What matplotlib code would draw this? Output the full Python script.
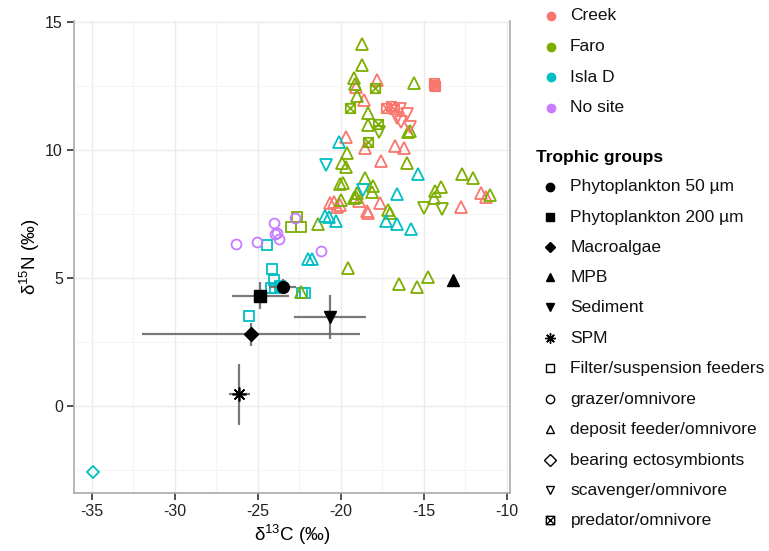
import matplotlib
matplotlib.use("Agg")
import matplotlib.pyplot as plt
from matplotlib.path import Path
from matplotlib.lines import Line2D
from matplotlib.ticker import MultipleLocator

plt.rcParams['font.family'] = ['Liberation Sans', 'DejaVu Sans']
plt.rcParams['mathtext.fontset'] = 'custom'
plt.rcParams['mathtext.rm'] = 'Liberation Sans'
plt.rcParams['mathtext.it'] = 'Liberation Sans:italic'
plt.rcParams['mathtext.default'] = 'regular'
plt.rcParams['axes.unicode_minus'] = False

# ---------------- data ----------------
site_names = ["Creek", "Faro", "Isla D", "No site"]
site_colors = ["#F8766D", "#7CAE00", "#00BFC4", "#C77CFF"]

group_labels = ["Phytoplankton 50 µm", "Phytoplankton 200 µm", "Macroalgae", "MPB",
                "Sediment", "SPM", "Filter/suspension feeders", "grazer/omnivore",
                "deposit feeder/omnivore", "bearing ectosymbionts",
                "scavenger/omnivore", "predator/omnivore"]

# sources (mean, sd)
src_names = ["Phytoplankton 50 µm", "Phytoplankton 200 µm", "Macroalgae", "MPB", "Sediment", "SPM"]
src_c = [-23.5, -24.84, -25.42, -13.22, -20.65, -26.11]
src_n = [4.66, 4.31, 2.81, 4.92, 3.46, 0.46]
src_c_sd = [0.8, 1.7, 6.57, 0.0, 2.15, 0.65]
src_n_sd = [0.3, 0.52, 0.45, 0.0, 0.86, 1.19]

# consumers
filter_c = [-22.65, -23.0, -22.41, -24.46, -24.12, -24.0, -24.22, -23.96, -23.66, -25.5, -22.35, -22.15]
filter_n = [7.37, 7.0, 7.0, 6.29, 5.34, 4.92, 4.6, 4.62, 4.69, 3.52, 4.43, 4.43]
filter_site = ["Faro", "Faro", "Faro", "Isla D", "Isla D", "Isla D", "Isla D", "Isla D",
               "Isla D", "Isla D", "Isla D", "Isla D"]

grazer_c = [-26.33, -25.02, -24.0, -23.96, -23.82, -23.7, -22.75, -21.19]
grazer_n = [6.32, 6.42, 7.14, 6.72, 6.74, 6.52, 7.33, 6.07]
grazer_site = ["No site"] * 8

deposit_c = [-17.79, -19.08, -18.6, -19.68, -18.54, -16.73, -16.17, -17.57, -11.55, -11.25,
             -12.75, -17.63, -18.4, -18.34, -18.88, -20.64, -20.4, -20.25, -20.04,
             -18.70, -18.70, -19.20, -19.12, -19.0, -18.37, -18.34, -19.6, -15.57, -15.96,
             -15.85, -15.99, -12.67, -12.01, -14.32, -13.94, -14.38, -11.0, -17.13, -17.03,
             -18.54, -18.04, -18.13, -19.0, -19.2, -19.08, -19.94, -19.68, -20.04, -19.84,
             -19.98, -21.39, -19.58, -16.47, -15.39, -14.76, -22.4,
             -20.1, -15.36, -16.59, -20.94, -20.69, -20.28, -17.27, -16.59, -15.77, -21.95, -21.71]
deposit_n = [12.73, 12.47, 11.95, 10.52, 10.07, 10.17, 10.07, 9.57, 8.31, 8.18,
             7.79, 7.92, 7.63, 7.55, 8.0, 7.92, 7.98, 7.79, 7.85,
             14.14, 13.32, 12.83, 12.57, 12.12, 11.43, 10.98, 9.87, 12.6, 10.72,
             10.75, 9.5, 9.05, 8.89, 8.40, 8.54, 8.14, 8.24, 7.66, 7.55,
             8.92, 8.61, 8.37, 8.31, 8.11, 8.18, 9.48, 9.32, 8.66, 8.72,
             8.05, 7.1, 5.4, 4.77, 4.64, 5.03, 4.45,
             10.33, 9.06, 8.27, 7.43, 7.39, 7.24, 7.23, 7.1, 6.9, 5.73, 5.73]
deposit_site = ["Creek"] * 19 + ["Faro"] * 37 + ["Isla D"] * 11

ecto_c = [-34.94]
ecto_n = [-2.59]
ecto_site = ["Isla D"]

scav_c = [-16.43, -16.02, -16.63, -16.39, -15.83, -17.67, -14.98, -13.88, -20.9, -18.64]
scav_n = [11.59, 11.41, 11.24, 11.1, 10.91, 10.69, 7.75, 7.70, 9.41, 8.44]
scav_site = ["Creek"] * 5 + ["Faro"] * 3 + ["Isla D"] * 2

pred_c = [-17.25, -17.0, -16.77, -14.4, -14.3, -14.35, -17.95, -19.46, -17.73, -18.37]
pred_n = [11.63, 11.72, 11.6, 12.6, 12.5, 12.55, 12.43, 11.63, 11.0, 10.3]
pred_site = ["Creek"] * 6 + ["Faro"] * 4

x_ticks = [-35, -30, -25, -20, -15, -10]
y_ticks = [0, 5, 10, 15]

# ---------------- styles ----------------
sq_cross = Path([(-1, -1), (1, -1), (1, 1), (-1, 1), (-1, -1),
                 (-1, -1), (1, 1), (-1, 1), (1, -1)],
                [Path.MOVETO, Path.LINETO, Path.LINETO, Path.LINETO, Path.CLOSEPOLY,
                 Path.MOVETO, Path.LINETO, Path.MOVETO, Path.LINETO])
asterisk8 = (8, 2, 0)

src_markers = {"Phytoplankton 50 µm": ("o", True), "Phytoplankton 200 µm": ("s", True),
               "Macroalgae": ("D", True), "MPB": ("^", True), "Sediment": ("v", True),
               "SPM": (asterisk8, False)}
group_markers = ["o", "s", "D", "^", "v", asterisk8, "s", "o", "^", "D", "v", sq_cross]
group_filled = [True, True, True, True, True, False, False, False, False, False, False, False]

color_of = dict(zip(site_names, site_colors))

fig = plt.figure(figsize=(7.69, 5.51), dpi=100)
ax = fig.add_axes([74 / 769, 1 - 493 / 551, (510 - 74) / 769, (493 - 20.7) / 551])

ax.set_xlim(-36.07, -9.8)
ax.set_ylim(-3.4, 15.05)
ax.xaxis.set_major_locator(MultipleLocator(5))
ax.yaxis.set_major_locator(MultipleLocator(5))
ax.xaxis.set_minor_locator(MultipleLocator(2.5))
ax.yaxis.set_minor_locator(MultipleLocator(2.5))
ax.grid(True, which='major', color='#EBEBEB', lw=1.0)
ax.grid(True, which='minor', color='#F4F4F4', lw=0.8)
ax.set_axisbelow(True)
ax.tick_params(which='minor', length=0)
ax.tick_params(which='major', length=5, width=1.2, color='#333333', labelsize=11.5,
               labelcolor='#222222', direction='out', pad=3)
ax.spines['top'].set_visible(False)
for s in ['left', 'bottom', 'right']:
    ax.spines[s].set_color('#AAAAAA')
    ax.spines[s].set_linewidth(1.2)
ax.set_xticks(x_ticks)
ax.set_yticks(y_ticks)

ms = 7.5
mew = 1.3


def draw_group(cs, ns, sites, marker, size=ms):
    for c, n, s in zip(cs, ns, sites):
        ax.plot([c], [n], linestyle='none', marker=marker, markersize=size,
                markerfacecolor='none', markeredgecolor=color_of[s], markeredgewidth=mew,
                zorder=3)


draw_group(filter_c, filter_n, filter_site, "s", ms * 0.95)
draw_group(grazer_c, grazer_n, grazer_site, "o", ms * 0.95)
draw_group(deposit_c, deposit_n, deposit_site, "^", ms * 1.08)
draw_group(ecto_c, ecto_n, ecto_site, "D", ms * 0.8)
draw_group(scav_c, scav_n, scav_site, "v", ms * 1.08)
draw_group(pred_c, pred_n, pred_site, sq_cross, ms * 0.9)

# sources with error bars
for name, c, n, csd, nsd in zip(src_names, src_c, src_n, src_c_sd, src_n_sd):
    if csd > 0 or nsd > 0:
        ax.errorbar([c], [n], xerr=[csd], yerr=[nsd], fmt='none', ecolor='#6A6A6A',
                    elinewidth=1.6, capsize=0, zorder=4, alpha=0.9)
    mk, filled = src_markers[name]
    if filled:
        ax.plot([c], [n], linestyle='none', marker=mk, markersize=8.5 if mk != "D" else 7,
                color='black', zorder=5)
    else:
        ax.plot([c], [n], linestyle='none', marker=mk, markersize=10,
                color='black', markeredgewidth=1.2, zorder=5)

ax.set_xlabel('δ$^{13}$C (‰)', fontsize=13.5, labelpad=3)
ax.set_ylabel('δ$^{15}$N (‰)', fontsize=13.5, labelpad=2)

# ---------------- legends (drawn in figure pixels) ----------------
W, H = 769, 551


def fx(px):
    return px / W


def fy(py):
    return 1 - py / H


leg1_y = [16, 46.7, 77.3, 107.7]
for name, col, y in zip(site_names, site_colors, leg1_y):
    fig.add_artist(Line2D([fx(550.5)], [fy(y)], marker='o', markersize=6, color=col,
                          linestyle='none', transform=fig.transFigure))
    fig.text(fx(570), fy(y), name, fontsize=12.5, va='center', ha='left', color='#111111')

fig.text(fx(536), fy(157.5), "Trophic groups", fontsize=12.5, fontweight='bold',
         va='center', ha='left')
leg2_y = [186.7, 217.3, 247.3, 277.3, 307.3, 338.3, 368.3, 399.3, 429.3, 460, 490, 520]
for lab, mk, filled, y in zip(group_labels, group_markers, group_filled, leg2_y):
    if filled:
        size = 6 if mk not in ("D",) else 5.5
        fig.add_artist(Line2D([fx(550)], [fy(y)], marker=mk, markersize=size, color='black',
                              linestyle='none', transform=fig.transFigure))
    else:
        if isinstance(mk, tuple):
            fig.add_artist(Line2D([fx(550)], [fy(y)], marker=mk, markersize=7.5, color='black',
                                  markeredgewidth=1.0, linestyle='none',
                                  transform=fig.transFigure))
        else:
            fig.add_artist(Line2D([fx(550)], [fy(y)], marker=mk, markersize=6,
                                  markerfacecolor='none', markeredgecolor='black',
                                  markeredgewidth=1.0, linestyle='none',
                                  transform=fig.transFigure))
    fig.text(fx(570.5), fy(y), lab, fontsize=12.5, va='center', ha='left', color='#111111')

fig.savefig("out.png", dpi=100)
